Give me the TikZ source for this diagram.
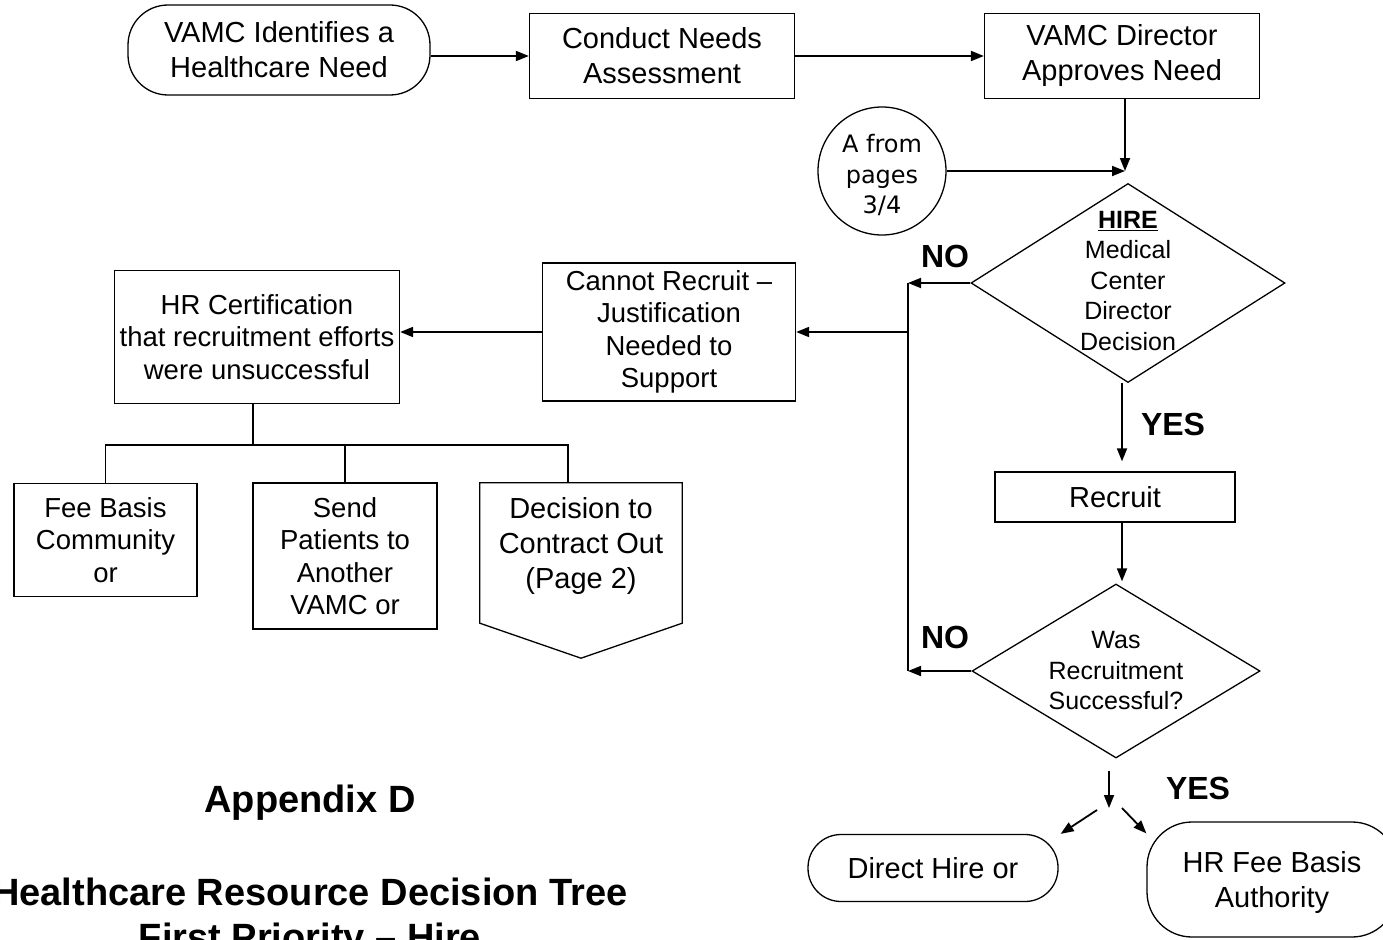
\documentclass[tikz,border=0pt]{standalone}
\usepackage{fontspec}
\setmainfont{Liberation Sans}
\newfontfamily\verdanafont{DejaVu Sans}
\usepackage{tikz}
\usetikzlibrary{shapes.geometric, arrows.meta, positioning}
\newcommand{\boxsize}{\fontsize{29}{35}\selectfont}
\newcommand{\smallboxsize}{\fontsize{27.5}{32.5}\selectfont}
\newcommand{\dsize}{\fontsize{25}{30.5}\selectfont}
\tikzstyle{rec} = [rectangle, draw=black, line width=1.3pt, inner sep=0pt, align=center, font=\boxsize]
\tikzstyle{srec} = [rec, font=\smallboxsize]
\tikzstyle{term} = [rec, rounded corners=40pt]
\tikzstyle{decision} = [diamond, draw=black, line width=1.3pt, inner sep=0pt]
\tikzstyle{dtext} = [align=center, font=\dsize]
\tikzstyle{conn} = [circle, draw=black, line width=1.3pt, inner sep=0pt, minimum size=128pt]
\tikzstyle{ctext} = [align=center, font=\verdanafont\fontsize{24}{30.5}\selectfont]
\tikzstyle{line} = [line width=1.3pt]
\tikzstyle{arrow} = [line width=1.8pt, ->, >={Triangle[length=13pt,width=10pt]}]
\tikzstyle{answer} = [font=\bfseries\fontsize{32}{38}\selectfont]
\tikzstyle{heading} = [font=\bfseries\fontsize{38}{45}\selectfont]

\begin{document}
\begin{tikzpicture}[x=1pt, y=-1pt]
		\useasboundingbox (0,0) rectangle (1383,939);
		\clip (0,0) rectangle (1383,939);
		% top row
		\node (need) [term, minimum width=302pt, minimum height=90pt] at (279,50) {VAMC Identifies a\\Healthcare Need};
		\node (conduct) [rec, minimum width=265pt, minimum height=85pt] at (662,56) {Conduct Needs\\Assessment};
		\node (director) [rec, minimum width=275pt, minimum height=85pt, right of=conduct, node distance=460pt] {VAMC Director\\Approves Need};
		\draw [arrow] (need.east |- conduct) -- (conduct);
		\draw [arrow] (conduct) -- (director);
		\node (fromA) [conn, label={[ctext, yshift=-4pt]center:{A from\\pages\\3/4}}] at (882,171) {};
		\coordinate (join) at (1125,171);
		\draw [arrow] (director.south -| join) -- (join);
		\draw [arrow] (fromA) -- (fromA -| join);
		% hire decision
		\node (hire) [decision, minimum width=314pt, minimum height=199pt, label={[dtext, yshift=2pt]center:{\underline{\textbf{HIRE}}\\Medical\\Center\\Director\\Decision}}] at (1128,283) {};
		\node (recruit) [rec, minimum width=240pt, minimum height=50pt] at (1115,497) {Recruit};
		\node (recruited) [decision, minimum width=288pt, minimum height=174pt, label={[dtext]center:{Was\\Recruitment\\Successful?}}] at (1116,671) {};
		\draw [arrow] ([xshift=-6pt]hire.south) -- ([xshift=7pt,yshift=10pt]recruit.north);
		\draw [arrow] ([xshift=7pt]recruit.south) -- ([xshift=6pt,yshift=2pt]recruited.north);
		\node (yes1) [answer] at (1173,424) {YES};
		\node (no1) [answer] at (945,256) {NO};
		\node (no2) [answer] at (945,637) {NO};
		% NO branch
		\coordinate (nohire) at (908,283);
		\coordinate (norecruit) at (908,671);
		\draw [arrow] (hire.west) -- (nohire);
		\draw [arrow] (recruited.west) -- (norecruit);
		\draw [line width=1.8pt] (nohire) -- (norecruit);
		\node (cannot) [srec, minimum width=253pt, minimum height=138pt] at (669,332) {Cannot Recruit --\\Justification\\Needed to\\Support};
		\node (hrcert) [srec, minimum width=285pt, minimum height=133pt] at (257,337) {HR Certification\\that recruitment efforts\\were unsuccessful};
		\draw [arrow] (nohire |- cannot.east) -- (cannot.east);
		\draw [arrow] (cannot.west) -- (cannot.west -| hrcert.east);
		% alternatives
		\node (fee) [srec, minimum width=183pt, minimum height=113pt] at (105.5,540) {Fee Basis\\Community\\or};
		\node (send) [srec, minimum width=184pt, minimum height=146pt] at (345,556) {Send\\Patients to\\Another\\VAMC or};
		\node (contract) [rectangle, inner sep=0pt, minimum width=202pt, minimum height=140pt, label={[font=\boxsize, align=center, yshift=7pt]center:{Decision to\\Contract Out\\(Page 2)}}] at (581,553) {};
		\draw [line] (contract.north west) -- (contract.north east) -- (contract.south east) -- ([yshift=-35pt]contract.south) -- (contract.south west) -- cycle;
		\coordinate (split) at (253,445);
		\draw [line] (split |- hrcert.south) -- (split);
		\draw [line] (fee.north) |- (split) -| ([xshift=-13pt]contract.north);
		\draw [line] (send.north) -- (send.north |- split);
		% YES branch
		\coordinate (fork) at (1109,808);
		\node (yes2) [answer] at (1198,788) {YES};
		\node (direct) [term, rounded corners=33pt, minimum width=250pt, minimum height=67pt] at (933,868) {Direct Hire or};
		\node (feeauth) [term, rounded corners=45pt, minimum width=250pt, minimum height=115pt, label={[font=\boxsize, align=center, yshift=-3pt]center:{HR Fee Basis\\Authority}}] at (1272,879.5) {};
		\draw [arrow] ([xshift=-7pt,yshift=-12pt]recruited.south) -- (fork);
		\draw [arrow] ([xshift=-12pt,yshift=-2pt]fork) -- ([xshift=2pt]direct.north east);
		\draw [arrow] ([xshift=13pt]fork) -- ([yshift=-12pt]feeauth.north west);
		% caption
		\node (appendix) [heading] at (310,803) {Appendix D};
		\node (title) [heading, anchor=base] at (310,905) {Healthcare Resource Decision Tree};
		\node (subtitle) [heading, anchor=base] at (310,950) {First Priority -- Hire};
\end{tikzpicture}
\end{document}
